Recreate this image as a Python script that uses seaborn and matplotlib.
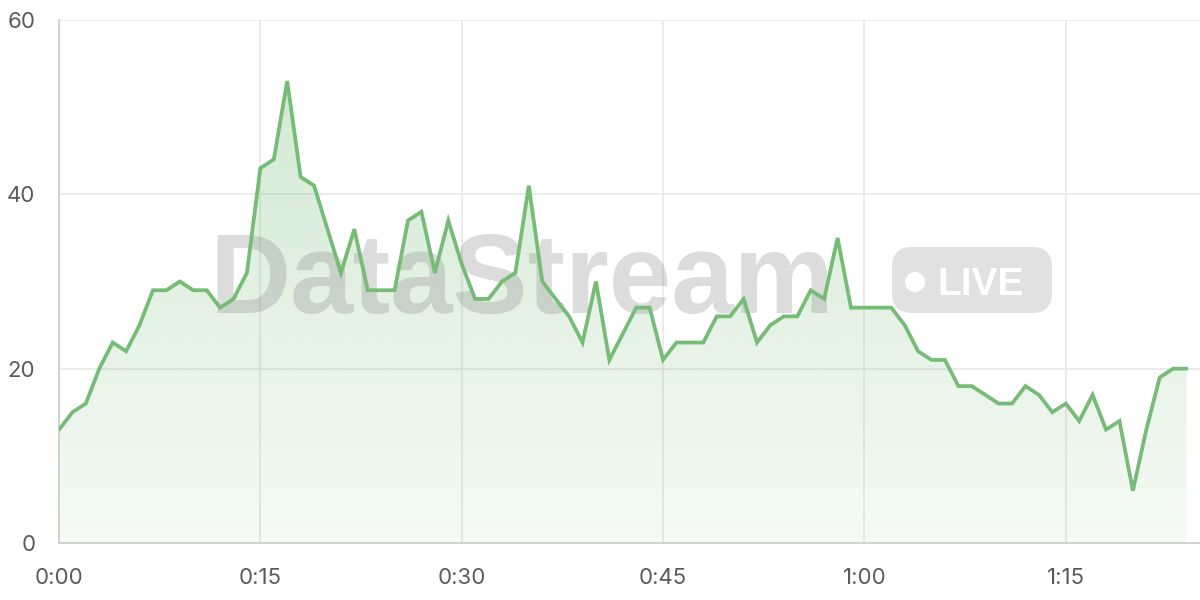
import numpy as np
import pandas as pd
import matplotlib
matplotlib.use("Agg")
import matplotlib.pyplot as plt
import seaborn as sns
from matplotlib.patches import FancyBboxPatch, Circle
from matplotlib.colors import LinearSegmentedColormap

# ---------------- data ----------------
minutes = list(range(85))
values = [13, 15, 16, 20, 23, 22, 25, 29, 29, 30,
          29, 29, 27, 28, 31, 43, 44, 53, 42, 41,
          36, 31, 36, 29, 29, 29, 37, 38, 31, 37,
          32, 28, 28, 30, 31, 41, 30, 28, 26, 23,
          30, 21, 24, 27, 27, 21, 23, 23, 23, 26,
          26, 28, 23, 25, 26, 26, 29, 28, 35, 27,
          27, 27, 27, 25, 22, 21, 21, 18, 18, 17,
          16, 16, 18, 17, 15, 16, 14, 17, 13, 14,
          6, 13, 19, 20, 20]
x_ticks = [0, 15, 30, 45, 60, 75]
x_tick_labels = ["0:00", "0:15", "0:30", "0:45", "1:00", "1:15"]
y_ticks = [0, 20, 40, 60]
y_tick_labels = ["0", "20", "40", "60"]
watermark = "DataStream"
badge_text = "LIVE"

df = pd.DataFrame({"minute": minutes, "value": values})

# ---------------- style ----------------
sns.set_theme(style="white")
plt.rcParams["font.family"] = ["Inter", "DejaVu Sans"]

LINE = "#76bb76"
GRID = "#e9e9e9"
SPINE = "#cfcfcf"
TXT = "#5a5a5a"

fig = plt.figure(figsize=(12, 6), dpi=100)
fig.patch.set_facecolor("white")
ax = fig.add_axes([59 / 1200, 57 / 600, 1141 / 1200, 523 / 600])
ax.set_facecolor("white")

# gradient area fill
poly = ax.fill_between(df["minute"], df["value"], 0, facecolor="none",
                       edgecolor="none", zorder=2)
rgb = matplotlib.colors.to_rgb(LINE)
cmap = LinearSegmentedColormap.from_list(
    "g", [(*rgb, 0.07), (*rgb, 0.32)])
grad = np.linspace(0, 1, 256).reshape(-1, 1)
im = ax.imshow(grad, extent=[min(minutes), max(minutes), 0, max(values)],
               origin="lower", aspect="auto", cmap=cmap, zorder=2,
               interpolation="bilinear")
im.set_clip_path(poly.get_paths()[0], ax.transData)

# line
sns.lineplot(data=df, x="minute", y="value", ax=ax, color=LINE,
             linewidth=2.7, zorder=5)
for ln in ax.lines:
    ln.set_solid_joinstyle("miter")

# watermark (below the line)
ax.text(5.22, 2.875, watermark, transform=fig.dpi_scale_trans,
        ha="center", va="baseline", fontsize=81, fontweight="bold",
        family=["Liberation Sans", "DejaVu Sans"], color="#888888",
        alpha=0.29, zorder=3)
badge = FancyBboxPatch((8.92, 2.87), 1.60, 0.66,
                       boxstyle="round,pad=0,rounding_size=0.2",
                       transform=fig.dpi_scale_trans, facecolor="#888888",
                       alpha=0.25, edgecolor="none", zorder=3)
ax.add_patch(badge)
ax.add_patch(Circle((9.15, 3.18), 0.10, transform=fig.dpi_scale_trans,
                    facecolor="white", edgecolor="none", zorder=3.5))
ax.text(9.37, 3.05, badge_text, transform=fig.dpi_scale_trans,
        ha="left", va="baseline", fontsize=28, fontweight="bold",
        family=["Liberation Sans", "DejaVu Sans"], color="white", zorder=3.5)

# axes, ticks, grid
ax.set_xlim(0, 85)
ax.set_ylim(0, 60)
ax.set_xticks(x_ticks)
ax.set_xticklabels(x_tick_labels)
ax.set_yticks(y_ticks)
ax.set_yticklabels(y_tick_labels)
ax.set_xlabel("")
ax.set_ylabel("")
ax.grid(True, color=GRID, linewidth=1.3)
ax.set_axisbelow(True)
ax.tick_params(axis="both", length=11, width=1.1, color=GRID,
               labelcolor=TXT, labelsize=16)
ax.tick_params(axis="x", pad=7)
ax.tick_params(axis="y", pad=6)
for side in ["top", "right"]:
    ax.spines[side].set_visible(False)
for side in ["left", "bottom"]:
    ax.spines[side].set_color(SPINE)
    ax.spines[side].set_linewidth(1.3)
    ax.spines[side].set_zorder(4)

fig.savefig("out.png", dpi=100, facecolor="white")
